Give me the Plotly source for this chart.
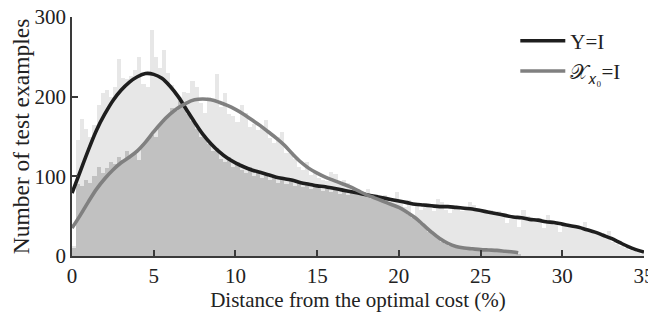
import numpy as np
import plotly.graph_objects as go

# Histogram bins (0.25 wide)
bin_width = 0.25
hist_Y = [12, 145, 172, 160, 150, 165, 190, 205, 208, 200, 212, 247, 224, 222, 226, 233, 250, 216, 212, 284,
          250, 236, 258, 230, 215, 205, 200, 190, 178, 170, 160, 150, 148, 140, 132, 135, 122, 118, 124, 112,
          118, 108, 104, 112, 100, 106, 98, 102, 96, 100, 92, 98, 90, 94, 88, 92, 86, 90, 84, 88,
          85, 82, 86, 80, 84, 78, 82, 76, 80, 78, 82, 76, 84, 72, 78, 70, 76, 68, 72, 80,
          66, 62, 70, 48, 64, 58, 66, 62, 56, 72, 68, 58, 54, 62, 60, 56, 62, 68, 64, 58,
          56, 54, 58, 52, 56, 50, 42, 52, 48, 36, 58, 50, 46, 44, 48, 35, 51, 42, 44, 30,
          40, 38, 36, 38, 34, 43, 32, 30, 28, 26, 24, 31, 18, 15, 12, 10, 8, 6, 5, 3]
hist_X = [10, 90, 88, 95, 92, 100, 112, 104, 110, 118, 115, 124, 120, 132, 126, 128, 120, 140, 145, 152,
          150, 165, 170, 176, 186, 182, 194, 206, 205, 220, 212, 192, 180, 200, 196, 228, 187, 204, 178, 176,
          168, 190, 179, 162, 166, 158, 162, 171, 148, 142, 150, 156, 129, 130, 122, 112, 108, 118, 102, 104,
          98, 96, 94, 105, 103, 92, 95, 92, 86, 84, 78, 80, 75, 76, 72, 70, 68, 66, 64, 62,
          60, 57, 52, 50, 45, 40, 36, 30, 26, 22, 18, 15, 13, 12, 11, 10, 10, 9, 9, 8,
          9, 8, 7, 8, 6, 7, 6, 5, 4, 3]

# Smoothed density curves
curve_Y_x = [0, 0.5, 1, 1.5, 2, 2.5, 3, 3.5, 4, 4.5, 5, 5.5, 6, 6.5, 7, 7.5, 8, 8.5, 9, 9.5, 10, 10.5, 11, 11.5,
             12, 12.5, 13, 13.5, 14, 14.5, 15, 15.5, 16, 16.5, 17, 17.5, 18, 18.5, 19, 19.5, 20, 20.5, 21,
             21.5, 22, 22.5, 23, 23.5, 24, 24.5, 25, 25.5, 26, 26.5, 27, 27.5, 28, 28.5, 29, 29.5, 30, 30.5,
             31, 31.5, 32, 32.5, 33, 33.5, 34, 34.5, 35]
curve_Y_y = [79, 106, 133, 158, 178, 195, 208, 218, 225, 229, 228, 223, 213, 200, 184, 168, 153, 141, 131, 123,
             117, 112, 108, 105, 102, 99, 97, 95, 92, 90, 88, 87, 85, 83, 81, 79, 77, 75, 73, 71, 69, 67, 65,
             64, 63, 62, 62, 61, 60, 59, 57, 55, 53, 51, 49, 48, 46, 45, 43, 42, 40, 38, 36, 33, 30, 26, 22, 17,
             12, 8, 5]
curve_X_x = [0, 0.5, 1, 1.5, 2, 2.5, 3, 3.5, 4, 4.5, 5, 5.5, 6, 6.5, 7, 7.5, 8, 8.5, 9, 9.5, 10, 10.5, 11, 11.5,
             12, 12.5, 13, 13.5, 14, 14.5, 15, 15.5, 16, 16.5, 17, 17.5, 18, 18.5, 19, 19.5, 20, 20.5, 21,
             21.5, 22, 22.5, 23, 23.5, 24, 24.5, 25, 25.5, 26, 26.5, 27, 27.3]
curve_X_y = [35, 51, 68, 84, 97, 108, 117, 124, 132, 143, 156, 168, 178, 186, 192, 196, 197, 196, 193, 189,
             184, 178, 171, 164, 156, 148, 139, 128, 118, 110, 104, 99, 95, 91, 87, 82, 77, 73, 69, 65, 61,
             55, 48, 39, 30, 22, 16, 12, 10, 9, 8, 7.5, 7, 6, 5, 4]

x_ticks = [0, 5, 10, 15, 20, 25, 30, 35]
y_ticks = [0, 100, 200, 300]

n = len(hist_Y)
centers = (np.arange(n) + 0.5) * bin_width
hx = np.zeros(n)
hx[:len(hist_X)] = hist_X
hy = np.array(hist_Y, dtype=float)
upper = np.maximum(hy, hx)
lower = np.minimum(hy, hx)

fig = go.Figure()
fig.add_trace(go.Bar(x=centers, y=upper, width=bin_width, marker=dict(color="#e7e7e7", line=dict(width=0)),
                     showlegend=False, hoverinfo="skip"))
fig.add_trace(go.Bar(x=centers, y=lower, width=bin_width, marker=dict(color="#c1c1c1", line=dict(width=0)),
                     showlegend=False, hoverinfo="skip"))
fig.add_trace(go.Scatter(x=curve_Y_x, y=curve_Y_y, mode="lines", name="Y=I",
                         line=dict(color="#1e1e1e", width=3.6, shape="spline", smoothing=1)))
fig.add_trace(go.Scatter(x=curve_X_x, y=curve_X_y, mode="lines", name="𝒳<sub>𝑥₀</sub>=I",
                         line=dict(color="#808080", width=3.6, shape="spline", smoothing=1)))

font_family = "Liberation Serif, Times New Roman, serif"
axis_common = dict(showline=True, linecolor="#3a3a3a", linewidth=1.5, ticks="inside", ticklen=6,
                   tickwidth=1.5, tickcolor="#3a3a3a", showgrid=False, zeroline=False, automargin=False,
                   ticklabeloverflow="allow", ticklabelstandoff=0,
                   tickfont=dict(family=font_family, size=21, color="#222"))
# page body has an 8px margin, so the figure is 8px smaller and margins shifted
fig.update_layout(
    width=648, height=308,
    margin=dict(l=64, r=12, t=9, b=60),
    paper_bgcolor="white", plot_bgcolor="white",
    barmode="overlay", bargap=0,
    font=dict(family=font_family, color="#222"),
    xaxis=dict(range=[0, 35], tickvals=x_ticks,
               title=dict(text="Distance from the optimal cost (%)",
                          font=dict(family=font_family, size=21), standoff=2), **axis_common),
    yaxis=dict(range=[0, 300], tickvals=y_ticks,
               title=dict(text="Number of test examples",
                          font=dict(family=font_family, size=23.5), standoff=0), **axis_common),
    legend=dict(x=0.775, y=0.985, xanchor="left", yanchor="top", bgcolor="rgba(0,0,0,0)",
                itemwidth=45, font=dict(family=font_family, size=21, color="#222"), tracegroupgap=0),
)
fig.write_html("out.html")
